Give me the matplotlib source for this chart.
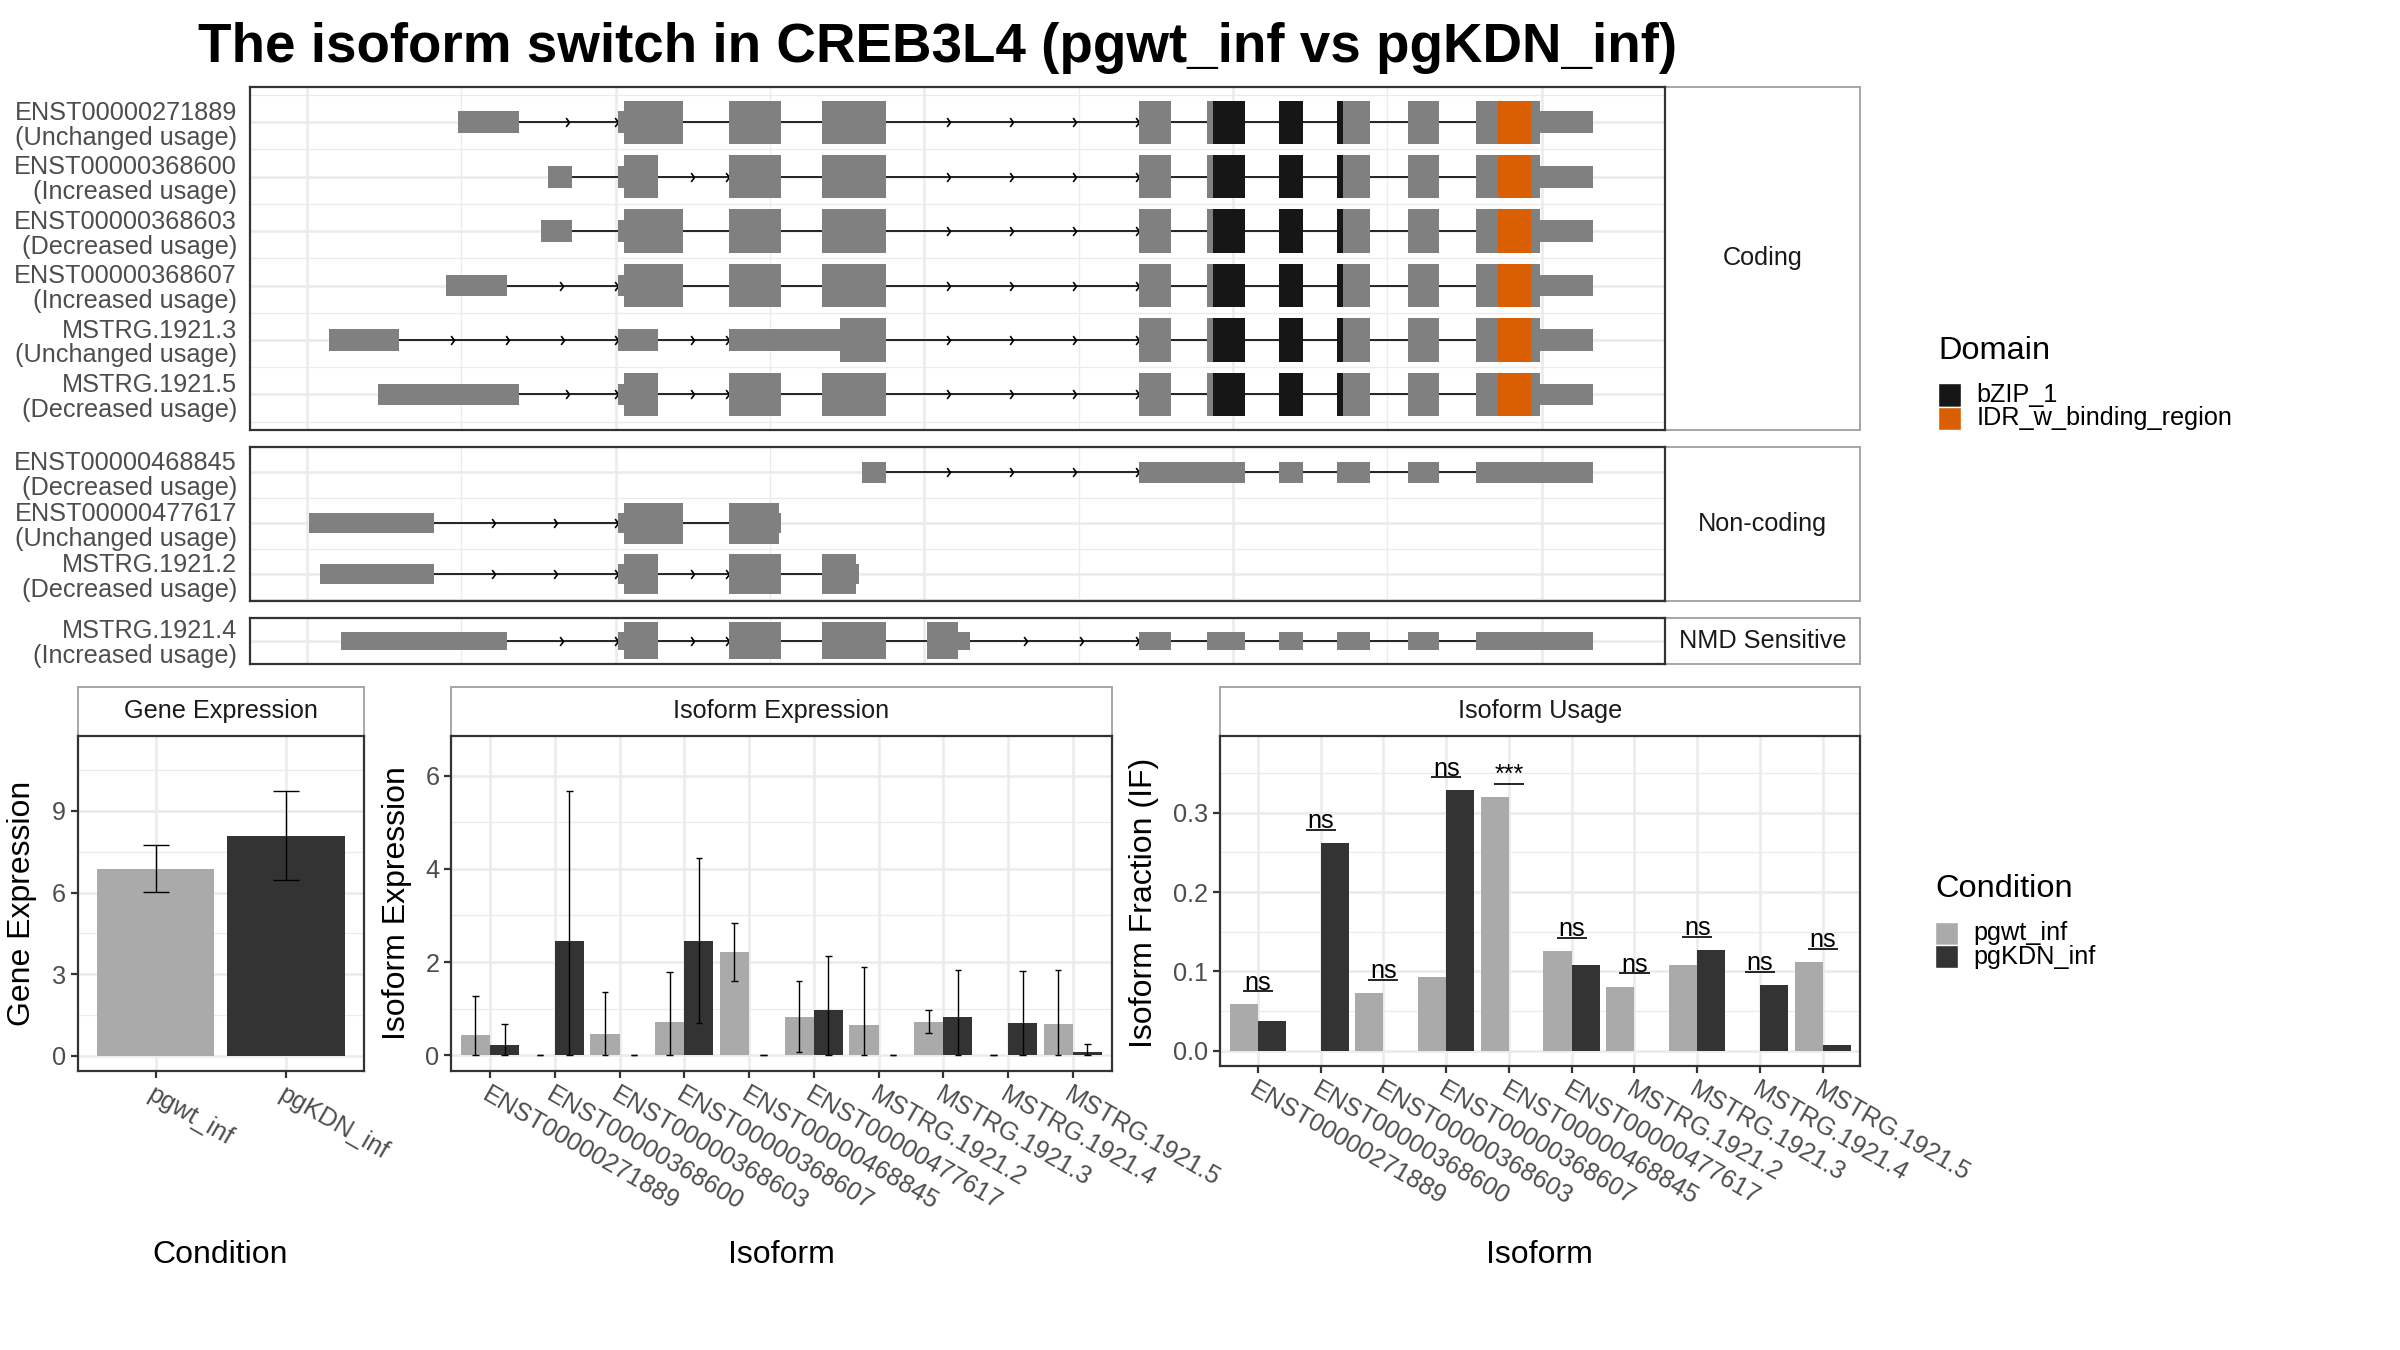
import numpy as np
import matplotlib
matplotlib.use('Agg')
import matplotlib.pyplot as plt
from matplotlib.patches import Rectangle
from matplotlib.path import Path

plt.rcParams['font.family'] = ['Liberation Sans', 'DejaVu Sans']

# ---------------- data ----------------
title = 'The isoform switch in CREB3L4 (pgwt_inf vs pgKDN_inf)'

# exons: (start, end, kind) on a relative genomic axis (grid line = 1 unit)
coding_tail = [(5.393, 5.597, 'cds'), (5.831, 5.871, 'cds'), (5.871, 6.075, 'bzip'),
               (6.297, 6.452, 'bzip'), (6.674, 6.713, 'bzip'), (6.713, 6.890, 'cds'),
               (7.134, 7.334, 'cds'), (7.572, 7.715, 'cds'), (7.715, 7.931, 'idr'),
               (7.931, 7.992, 'cds'), (7.992, 8.333, 'utr')]

tx_271889 = [(0.975, 1.374, 'utr'), (2.016, 2.054, 'utr'), (2.054, 2.434, 'cds'),
             (2.734, 3.073, 'cds'), (3.335, 3.753, 'cds')] + coding_tail
tx_368600 = [(1.558, 1.716, 'utr'), (2.016, 2.054, 'utr'), (2.054, 2.276, 'cds'),
             (2.734, 3.073, 'cds'), (3.335, 3.753, 'cds')] + coding_tail
tx_368603 = [(1.517, 1.716, 'utr'), (2.016, 2.054, 'utr'), (2.054, 2.434, 'cds'),
             (2.734, 3.073, 'cds'), (3.335, 3.753, 'cds')] + coding_tail
tx_368607 = [(0.899, 1.296, 'utr'), (2.016, 2.054, 'utr'), (2.054, 2.434, 'cds'),
             (2.734, 3.073, 'cds'), (3.335, 3.753, 'cds')] + coding_tail
tx_1921_3 = [(0.140, 0.598, 'utr'), (2.016, 2.276, 'utr'), (2.734, 3.452, 'utr'),
             (3.452, 3.753, 'cds')] + coding_tail
tx_1921_5 = [(0.458, 1.374, 'utr'), (2.016, 2.054, 'utr'), (2.054, 2.276, 'cds'),
             (2.734, 3.073, 'cds'), (3.335, 3.753, 'cds')] + coding_tail

tx_468845 = [(3.598, 3.753, 'utr'), (5.393, 6.075, 'utr'), (6.297, 6.452, 'utr'),
             (6.674, 6.890, 'utr'), (7.134, 7.334, 'utr'), (7.572, 8.333, 'utr')]
tx_477617 = [(0.015, 0.820, 'utr'), (2.016, 2.054, 'utr'), (2.054, 2.434, 'cds'),
             (2.734, 3.055, 'cds'), (3.055, 3.073, 'utr')]
tx_1921_2 = [(0.082, 0.820, 'utr'), (2.016, 2.054, 'utr'), (2.054, 2.276, 'cds'),
             (2.734, 3.073, 'cds'), (3.335, 3.557, 'cds'), (3.557, 3.577, 'utr')]

tx_1921_4 = [(0.219, 1.296, 'utr'), (2.016, 2.054, 'utr'), (2.054, 2.276, 'cds'),
             (2.734, 3.073, 'cds'), (3.335, 3.753, 'cds'), (4.015, 4.218, 'cds'),
             (4.218, 4.297, 'utr'), (5.393, 5.597, 'utr'), (5.831, 6.075, 'utr'),
             (6.297, 6.452, 'utr'), (6.674, 6.890, 'utr'), (7.134, 7.334, 'utr'),
             (7.572, 8.333, 'utr')]

coding_tx = [tx_271889, tx_368600, tx_368603, tx_368607, tx_1921_3, tx_1921_5]
coding_labels = ['ENST00000271889\n(Unchanged usage)', 'ENST00000368600\n(Increased usage)',
                 'ENST00000368603\n(Decreased usage)', 'ENST00000368607\n(Increased usage)',
                 'MSTRG.1921.3\n(Unchanged usage)', 'MSTRG.1921.5\n(Decreased usage)']
noncoding_tx = [tx_468845, tx_477617, tx_1921_2]
noncoding_labels = ['ENST00000468845\n(Decreased usage)', 'ENST00000477617\n(Unchanged usage)',
                    'MSTRG.1921.2\n(Decreased usage)']
nmd_tx = [tx_1921_4]
nmd_labels = ['MSTRG.1921.4\n(Increased usage)']

domain_names = ['bZIP_1', 'IDR_w_binding_region']

conditions = ['pgwt_inf', 'pgKDN_inf']
gene_expr = [6.87, 8.08]
gene_lo = [6.01, 6.48]
gene_hi = [7.75, 9.72]

isoforms = ['ENST00000271889', 'ENST00000368600', 'ENST00000368603', 'ENST00000368607',
            'ENST00000468845', 'ENST00000477617', 'MSTRG.1921.2', 'MSTRG.1921.3',
            'MSTRG.1921.4', 'MSTRG.1921.5']
iso_wt = [0.43, 0.0, 0.45, 0.72, 2.22, 0.83, 0.65, 0.72, 0.0, 0.67]
iso_wt_lo = [0.0, 0.0, 0.0, 0.0, 1.60, 0.07, 0.0, 0.47, 0.0, 0.0]
iso_wt_hi = [1.28, 0.0, 1.36, 1.79, 2.83, 1.59, 1.90, 0.97, 0.0, 1.84]
iso_kdn = [0.23, 2.46, 0.0, 2.46, 0.0, 0.98, 0.0, 0.83, 0.70, 0.07]
iso_kdn_lo = [0.0, 0.0, 0.0, 0.70, 0.0, 0.0, 0.0, 0.0, 0.0, 0.0]
iso_kdn_hi = [0.67, 5.68, 0.0, 4.23, 0.0, 2.12, 0.0, 1.83, 1.80, 0.25]

if_wt = [0.0585, 0.0, 0.073, 0.093, 0.320, 0.126, 0.081, 0.108, 0.0, 0.112]
if_kdn = [0.038, 0.262, 0.0, 0.328, 0.0, 0.108, 0.0, 0.127, 0.083, 0.008]
if_sig = ['ns', 'ns', 'ns', 'ns', '***', 'ns', 'ns', 'ns', 'ns', 'ns']

# ---------------- style ----------------
grey_exon = '#808080'
kind_color = {'utr': grey_exon, 'cds': grey_exon, 'bzip': '#161616', 'idr': '#D95F02'}
kind_half = {'utr': 0.2, 'cds': 0.4, 'bzip': 0.4, 'idr': 0.4}
cond_colors = ['#AAAAAA', '#333333']
grid_col = '#EBEBEB'
txt_col = '#4D4D4D'
small = 9.1
big = 11.5

W, H = 1548.0, 870.0   # layout measured on a 1548x870 copy


def rect(x0, y0, x1, y1):
    return [x0 / W, 1 - y1 / H, (x1 - x0) / W, (y1 - y0) / H]


chevron = Path([(-0.6, 0.8), (0, 0), (-0.6, -0.8)], [Path.MOVETO, Path.LINETO, Path.LINETO])

fig = plt.figure(figsize=(12, 6.75), dpi=200)
fig.text(604.5 / W, 1 - 40 / H, title, ha='center', va='baseline', fontsize=19.7,
         fontweight='bold')


def strip(r, label, hide):
    s = fig.add_axes(r)
    s.set_xticks([])
    s.set_yticks([])
    for k, sp in s.spines.items():
        sp.set_color('#A6A6A6')
        sp.set_linewidth(0.7)
        if k == hide:
            sp.set_visible(False)
    s.text(0.5, 0.5, label, ha='center', va='center', fontsize=small, color='#1A1A1A',
           transform=s.transAxes)


def tx_panel(y0, y1, txs, labels, ylim, strip_label):
    strip(rect(1074, y0, 1200, y1), strip_label, 'left')
    ax = fig.add_axes(rect(161, y0, 1074, y1))
    for row, exons in enumerate(txs, start=1):
        blocks = sorted((s, e) for s, e, k in exons)
        for (s0, e0), (s1, e1) in zip(blocks[:-1], blocks[1:]):
            gap = s1 - e0
            if gap <= 1e-6:
                continue
            ax.plot([e0, s1], [row, row], color='black', lw=0.6, zorder=2)
            if gap > 0.35:
                n = max(2, int(round(gap / 0.37)))
                xs = e0 + gap * np.arange(1, n + 1) / n
                ax.plot(xs, [row] * n, ls='none', marker=chevron, ms=3.2, mfc='none',
                        mec='black', mew=0.6, zorder=2)
        for s, e, k in exons:
            h = kind_half[k]
            ax.add_patch(Rectangle((s, row - h), e - s, 2 * h, facecolor=kind_color[k],
                                   edgecolor='none', zorder=3))
    n = len(txs)
    ax.set_xlim(-0.373, 8.80)
    ax.set_ylim(*ylim)
    ax.set_xticks(np.arange(0, 9, 2))
    ax.set_xticks(np.arange(1, 9, 2), minor=True)
    ax.set_yticks(np.arange(1, n + 1))
    ax.set_yticks(np.arange(0.5, n + 1, 1.0), minor=True)
    ax.set_xticklabels([])
    ax.set_yticklabels(labels)
    for t in ax.get_yticklabels():
        t.set_linespacing(1.05)
    ax.tick_params(which='both', length=0, labelsize=small, labelcolor=txt_col, pad=4.5)
    ax.grid(which='major', color=grid_col, lw=0.9)
    ax.grid(which='minor', color=grid_col, lw=0.45)
    ax.set_axisbelow(True)
    for sp in ax.spines.values():
        sp.set_color('#333333')
        sp.set_linewidth(0.8)
    return ax


tx_panel(56, 277, coding_tx, coding_labels, (6.65, 0.35), 'Coding')
tx_panel(288, 387, noncoding_tx, noncoding_labels, (3.52, 0.68), 'Non-coding')
tx_panel(398, 428, nmd_tx, nmd_labels, (1.43, 0.58), 'NMD Sensitive')


def bar_panel(x0, x1, y1, label):
    strip(rect(x0, 443, x1, 474), label, 'bottom')
    ax = fig.add_axes(rect(x0, 474, x1, y1))
    for sp in ax.spines.values():
        sp.set_color('#333333')
        sp.set_linewidth(0.8)
    ax.grid(which='major', color=grid_col, lw=0.9)
    ax.grid(which='minor', axis='y', color=grid_col, lw=0.45)
    ax.set_axisbelow(True)
    ax.tick_params(which='major', length=2.4, width=0.8, color='#333333',
                   labelcolor=txt_col, labelsize=small, pad=1.8)
    ax.tick_params(which='minor', length=0)
    return ax


def errbars(ax, xs, lo, hi, cap):
    ax.vlines(xs, lo, hi, color='black', lw=0.5, zorder=3)
    ax.hlines(lo, np.asarray(xs) - cap, np.asarray(xs) + cap, color='black', lw=0.5, zorder=3)
    ax.hlines(hi, np.asarray(xs) - cap, np.asarray(xs) + cap, color='black', lw=0.5, zorder=3)


def rot_labels(ax, labels):
    ax.set_xticklabels(labels, rotation=-30, ha='left', va='top', rotation_mode='anchor')


# Gene expression
ax = bar_panel(50, 235, 690, 'Gene Expression')
gx = np.arange(1, 3)
ax.bar(gx, gene_expr, width=0.9, color=cond_colors, zorder=2)
errbars(ax, gx, gene_lo, gene_hi, 0.1)
ax.set_xlim(0.4, 2.6)
ax.set_ylim(-0.54, 11.77)
ax.set_yticks([0, 3, 6, 9])
ax.set_yticks([1.5, 4.5, 7.5, 10.5], minor=True)
ax.set_xticks(gx)
rot_labels(ax, conditions)

# Isoform expression
ax = bar_panel(291, 717, 690, 'Isoform Expression')
ix = np.arange(1, len(isoforms) + 1)
ax.bar(ix - 0.225, iso_wt, width=0.45, color=cond_colors[0], zorder=2)
ax.bar(ix + 0.225, iso_kdn, width=0.45, color=cond_colors[1], zorder=2)
errbars(ax, ix - 0.225, iso_wt_lo, iso_wt_hi, 0.05)
errbars(ax, ix + 0.225, iso_kdn_lo, iso_kdn_hi, 0.05)
ax.set_xlim(0.4, len(isoforms) + 0.6)
ax.set_ylim(-0.33, 6.86)
ax.set_yticks([0, 2, 4, 6])
ax.set_yticks([1, 3, 5], minor=True)
ax.set_xticks(ix)
rot_labels(ax, isoforms)

# Isoform usage
ax = bar_panel(787, 1200, 687, 'Isoform Usage')
ax.bar(ix - 0.225, if_wt, width=0.45, color=cond_colors[0], zorder=2)
ax.bar(ix + 0.225, if_kdn, width=0.45, color=cond_colors[1], zorder=2)
for x, a, b, s in zip(ix, if_wt, if_kdn, if_sig):
    yl = max(a, b) + 0.0165
    ax.hlines(yl, x - 0.24, x + 0.24, color='black', lw=0.6, zorder=3)
    ax.text(x, yl + 0.002, s, ha='center', va='baseline', fontsize=small, color='black')
ax.set_xlim(0.4, len(isoforms) + 0.6)
ax.set_ylim(-0.019, 0.397)
ax.set_yticks([0.0, 0.1, 0.2, 0.3])
ax.set_yticks([0.05, 0.15, 0.25, 0.35], minor=True)
ax.set_yticklabels(['0.0', '0.1', '0.2', '0.3'])
ax.set_xticks(ix)
rot_labels(ax, isoforms)

# axis titles
for x, s in [(14, 'Gene Expression'), (256, 'Isoform Expression'), (738, 'Isoform Fraction (IF)')]:
    fig.text(x / W, 1 - 582 / H, s, rotation=90, ha='center', va='center', fontsize=big)
for x, s in [(142, 'Condition'), (504, 'Isoform'), (993, 'Isoform')]:
    fig.text(x / W, 1 - 809 / H, s, ha='center', va='center', fontsize=big)

# legends
def legend(x, ytitle, ykey, title_txt, names, colors):
    fig.text(x / W, 1 - ytitle / H, title_txt, ha='left', va='center', fontsize=11.7)
    for i, (nm, c) in enumerate(zip(names, colors)):
        y0 = ykey + 15 * i
        fig.patches.append(Rectangle((x / W, 1 - (y0 + 15) / H), 15 / W, 15 / H,
                                     transform=fig.transFigure, facecolor=c,
                                     edgecolor='white', lw=0.5))
        fig.text((x + 25) / W, 1 - (y0 + 7.5) / H, nm, ha='left', va='center', fontsize=small)


legend(1250, 226, 247, 'Domain', domain_names, [kind_color['bzip'], kind_color['idr']])
legend(1248, 573, 594, 'Condition', conditions, cond_colors)

fig.savefig('out.png', dpi=200)
